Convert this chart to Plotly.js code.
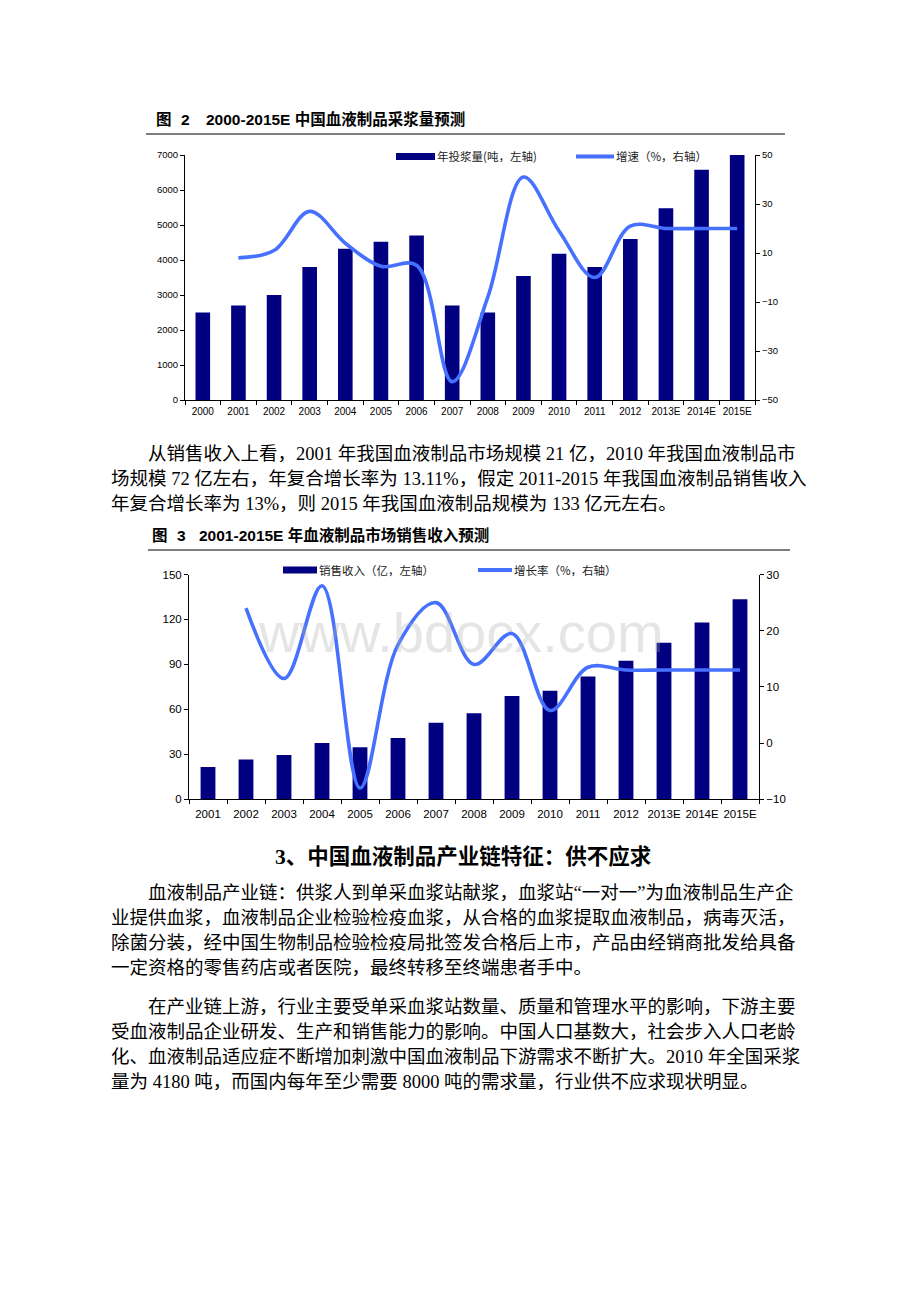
<!DOCTYPE html>
<html>
<head>
<meta charset="utf-8">
<script src="https://cdn.plot.ly/plotly-3.0.1.min.js"></script>
<style>
  html, body { margin: 0; padding: 0; background: #ffffff; }
  #page { width: 920px; height: 1302px; }
</style>
</head>
<body>
<div id="page"></div>
<script>
// ---------- data ----------
const years1 = ["2000","2001","2002","2003","2004","2005","2006","2007","2008","2009","2010","2011","2012","2013E","2014E","2015E"];
const plasmaVolume = [2500, 2700, 3000, 3800, 4320, 4520, 4700, 2700, 2500, 3540, 4180, 3800, 4600, 5480, 6580, 7000];
const plasmaGrowth = [null, 8, 11, 27, 14, 4.6, 5, -42.5, -8, 41, 19, 0, 21, 20, 20, 20];

const years2 = ["2001","2002","2003","2004","2005","2006","2007","2008","2009","2010","2011","2012","2013E","2014E","2015E"];
const salesRevenue = [21.5, 26.5, 29.5, 37.5, 34.7, 40.9, 51, 57.5, 68.9, 72.5, 82, 92.5, 104.5, 118, 133.5];
const salesGrowth = [null, 24, 11.5, 28, -8, 17.5, 25, 14, 19.5, 5.8, 13.5, 13, 13, 13, 13];

const fig2Label = ["图", "2"];
const fig2Title = "2000-2015E 中国血液制品采浆量预测";
const fig3Label = ["图", "3"];
const fig3Title = "2001-2015E 年血液制品市场销售收入预测";
const legend1 = ["年投浆量(吨，左轴)", "增速（%，右轴）"];
const legend2 = ["销售收入（亿，左轴）", "增长率（%，右轴）"];
const watermark = "www.bdocx.com";
const heading = "3、中国血液制品产业链特征：供不应求";
const para1 = [
  "从销售收入上看，2001 年我国血液制品市场规模 21 亿，2010 年我国血液制品市",
  "场规模 72 亿左右，年复合增长率为 13.11%，假定 2011-2015 年我国血液制品销售收入",
  "年复合增长率为 13%，则 2015 年我国血液制品规模为 133 亿元左右。"
];
const para2 = [
  "血液制品产业链：供浆人到单采血浆站献浆，血浆站“一对一”为血液制品生产企",
  "业提供血浆，血液制品企业检验检疫血浆，从合格的血浆提取血液制品，病毒灭活，",
  "除菌分装，经中国生物制品检验检疫局批签发合格后上市，产品由经销商批发给具备",
  "一定资格的零售药店或者医院，最终转移至终端患者手中。"
];
const para3 = [
  "在产业链上游，行业主要受单采血浆站数量、质量和管理水平的影响，下游主要",
  "受血液制品企业研发、生产和销售能力的影响。中国人口基数大，社会步入人口老龄",
  "化、血液制品适应症不断增加刺激中国血液制品下游需求不断扩大。2010 年全国采浆",
  "量为 4180 吨，而国内每年至少需要 8000 吨的需求量，行业供不应求现状明显。"
];

// ---------- helpers ----------
const W = 920, H = 1302;
const px = x => x / W;
const py = y => 1 - y / H;
const NAVY = "#000080";
const BLUE = "#4671ff";
const SANS = "Liberation Sans, Arial, 'Noto Sans CJK SC', sans-serif";
const SERIF = "Liberation Serif, 'Times New Roman', 'Noto Sans CJK SC', serif";
const CJK = "'Noto Sans CJK SC', sans-serif";

const traces = [
  { type: "bar", x: years1, y: plasmaVolume, xaxis: "x", yaxis: "y",
    marker: { color: NAVY }, width: 0.41, showlegend: false, hoverinfo: "skip" },
  { type: "scatter", mode: "lines", x: years1, y: plasmaGrowth, xaxis: "x", yaxis: "y2",
    line: { color: BLUE, width: 3.6, shape: "spline", smoothing: 1.0 },
    connectgaps: false, showlegend: false, hoverinfo: "skip" },
  { type: "bar", x: years2, y: salesRevenue, xaxis: "x2", yaxis: "y3",
    marker: { color: NAVY }, width: 0.39, showlegend: false, hoverinfo: "skip" },
  { type: "scatter", mode: "lines", x: years2, y: salesGrowth, xaxis: "x2", yaxis: "y4",
    line: { color: BLUE, width: 3.6, shape: "spline", smoothing: 1.0 },
    connectgaps: false, showlegend: false, hoverinfo: "skip" }
];

const axCommon = {
  showgrid: false, zeroline: false, showline: true, linecolor: "#000", linewidth: 1,
  ticks: "outside", ticklen: 4, tickwidth: 1, tickcolor: "#000"
};

const layout = {
  width: W, height: H,
  margin: { l: 0, r: 0, t: 0, b: 0 },
  paper_bgcolor: "#ffffff", plot_bgcolor: "rgba(0,0,0,0)",
  showlegend: false,
  xaxis: Object.assign({}, axCommon, {
    type: "category", domain: [px(185), px(755)], anchor: "y", tickson: "boundaries",
    tickangle: 0, ticklabelstandoff: 2, tickfont: { family: SANS, size: 10, color: "#000" }
  }),
  yaxis: Object.assign({}, axCommon, {
    domain: [py(400), py(155)], anchor: "x", range: [0, 7000], dtick: 1000,
    tickfont: { family: SANS, size: 9.5, color: "#000" }
  }),
  yaxis2: Object.assign({}, axCommon, {
    overlaying: "y", side: "right", anchor: "x", range: [-50, 50],
    tickvals: [-50, -30, -10, 10, 30, 50],
    tickfont: { family: SANS, size: 9.5, color: "#000" }
  }),
  xaxis2: Object.assign({}, axCommon, {
    type: "category", domain: [px(189), px(759)], anchor: "y3", tickson: "boundaries",
    tickangle: 0, ticklabelstandoff: 4, tickfont: { family: SANS, size: 11.5, color: "#000" }
  }),
  yaxis3: Object.assign({}, axCommon, {
    domain: [py(799.3), py(574.5)], anchor: "x2", range: [0, 150], dtick: 30,
    tickfont: { family: SANS, size: 11.5, color: "#000" }
  }),
  yaxis4: Object.assign({}, axCommon, {
    overlaying: "y3", side: "right", anchor: "x2", range: [-10, 30], dtick: 10,
    tickfont: { family: SANS, size: 11.5, color: "#000" }
  }),
  shapes: [
    // title rules
    { type: "line", xref: "paper", yref: "paper", x0: px(146), x1: px(785), y0: py(134), y1: py(134),
      line: { color: "#7f7f7f", width: 2 } },
    { type: "line", xref: "paper", yref: "paper", x0: px(148), x1: px(790), y0: py(550), y1: py(550),
      line: { color: "#7f7f7f", width: 2 } },
    // legend swatches chart 1
    { type: "rect", xref: "paper", yref: "paper", x0: px(396), x1: px(435), y0: py(160), y1: py(153),
      fillcolor: NAVY, line: { width: 0 } },
    { type: "line", xref: "paper", yref: "paper", x0: px(576), x1: px(614), y0: py(156.5), y1: py(156.5),
      line: { color: BLUE, width: 4 } },
    // legend swatches chart 2
    { type: "rect", xref: "paper", yref: "paper", x0: px(283), x1: px(317), y0: py(573.5), y1: py(566.5),
      fillcolor: NAVY, line: { width: 0 } },
    { type: "line", xref: "paper", yref: "paper", x0: px(478), x1: px(512), y0: py(570), y1: py(570),
      line: { color: BLUE, width: 4 } }
  ],
  annotations: []
};

function addText(text, x, y, font, anchor) {
  layout.annotations.push({
    xref: "paper", yref: "paper", x: px(x), y: py(y), text: text, showarrow: false,
    xanchor: anchor || "left", yanchor: "middle", font: font, borderpad: 0, borderwidth: 0
  });
}

// figure titles
const titleFont = { family: SANS, size: 15.5, color: "#000" };
addText("<b>" + fig2Label[0] + "</b>", 156, 119, titleFont);
addText("<b>" + fig2Label[1] + "</b>", 181, 119, titleFont);
addText("<b>" + fig2Title + "</b>", 206, 119, titleFont);
addText("<b>" + fig3Label[0] + "</b>", 152, 535, titleFont);
addText("<b>" + fig3Label[1] + "</b>", 177, 535, titleFont);
addText("<b>" + fig3Title + "</b>", 199, 535, titleFont);

// legends
const legFont = { family: CJK, size: 11.5, color: "#222" };
addText(legend1[0], 437, 156.5, legFont);
addText(legend1[1], 616, 156.5, legFont);
addText(legend2[0], 319, 570, legFont);
addText(legend2[1], 514, 570, legFont);

// watermark
layout.annotations.push({
  xref: "paper", yref: "paper", x: px(461), y: py(632), text: watermark, showarrow: false,
  xanchor: "center", yanchor: "middle",
  font: { family: SANS, size: 56, color: "rgba(170,170,170,0.3)" }
});

// body text
const bodyFont = { family: SERIF, size: 18.5, color: "#000" };
para1.forEach((t, i) => addText(t, i === 0 ? 148 : 111, 454 + i * 25, bodyFont));
addText("<b>" + heading + "</b>", 463, 856, { family: SERIF, size: 21.5, color: "#000" }, "center");
para2.forEach((t, i) => addText(t, i === 0 ? 148 : 111, 893 + i * 25, bodyFont));
para3.forEach((t, i) => addText(t, i === 0 ? 148 : 111, 1007 + i * 25, bodyFont));

Plotly.newPlot("page", traces, layout, { staticPlot: true, displayModeBar: false });
</script>
</body>
</html>
